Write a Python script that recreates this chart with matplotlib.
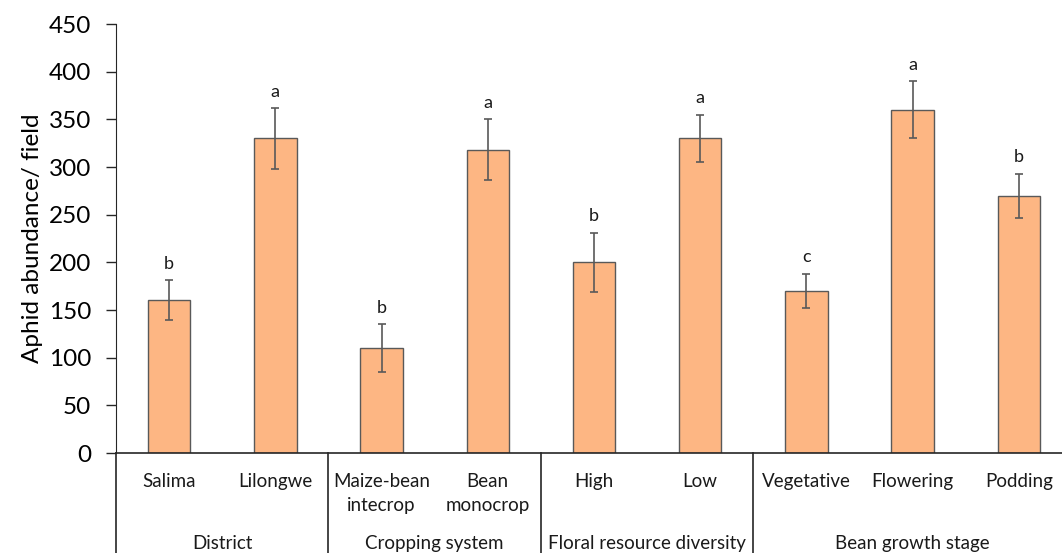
import matplotlib.pyplot as plt
import numpy as np

plt.rcParams["font.family"] = ["Lato", "DejaVu Sans"]

# Mean aphid abundance per field, with error and significance letters
categories = ["Salima", "Lilongwe", "Maize-bean\nintecrop", "Bean\nmonocrop",
              "High", "Low", "Vegetative", "Flowering", "Podding"]
abundance = [160, 330, 110, 318, 200, 330, 170, 360, 270]
errors = [21, 32, 25, 32, 31, 25, 18, 30, 23]
letters = ["b", "a", "b", "a", "b", "a", "c", "a", "b"]

groups = ["District", "Cropping system", "Floral resource diversity", "Bean growth stage"]
group_sizes = [2, 2, 2, 3]

bar_color = "#FDB683"
edge_color = "#595959"
line_color = "#262626"

fig = plt.figure(figsize=(10.62, 5.53), dpi=100)
ax = fig.add_axes([0.1092, 0.1808, 0.9002, 0.7758])

x = np.arange(len(categories))
ax.bar(x, abundance, width=0.4, color=bar_color, edgecolor=edge_color, linewidth=1.0,
       yerr=errors, error_kw=dict(ecolor="#595959", elinewidth=1.2, capsize=3, capthick=1.2))

for xi, v, e, lab in zip(x, abundance, errors, letters):
    ax.annotate(lab, (xi, v + e), xytext=(0, 6), textcoords="offset points",
                ha="center", va="bottom", fontsize=13, color="#1a1a1a")

ax.set_xlim(-0.5, len(categories) - 0.5)
ax.set_ylim(0, 450)
ax.set_yticks(range(0, 451, 50))
ax.tick_params(axis="y", labelsize=17.5, length=7, width=1, color=line_color, pad=11)
ax.set_xticks([])
ax.set_ylabel("Aphid abundance/ field", fontsize=17.5, labelpad=4)

for side in ["top", "right"]:
    ax.spines[side].set_visible(False)
ax.spines["left"].set_color(line_color)
ax.spines["bottom"].set_color(line_color)
ax.spines["bottom"].set_linewidth(1.2)

# category table under the axis
trans = ax.get_xaxis_transform()
for xi, name in zip(x, categories):
    ax.text(xi, -0.046, name, transform=trans, ha="center", va="top",
            fontsize=13.5, linespacing=1.5, color="#1a1a1a")

start = 0
bounds = [-0.5]
for name, size in zip(groups, group_sizes):
    centre = start + (size - 1) / 2
    ax.text(centre, -0.21, name, transform=trans, ha="center", va="center",
            fontsize=13.5, color="#1a1a1a")
    start += size
    bounds.append(start - 0.5)

for b in bounds[:-1]:
    ax.plot([b, b], [0, -0.3], transform=trans, color=line_color, linewidth=1.2,
            clip_on=False)

fig.savefig("out.png", dpi=100)
